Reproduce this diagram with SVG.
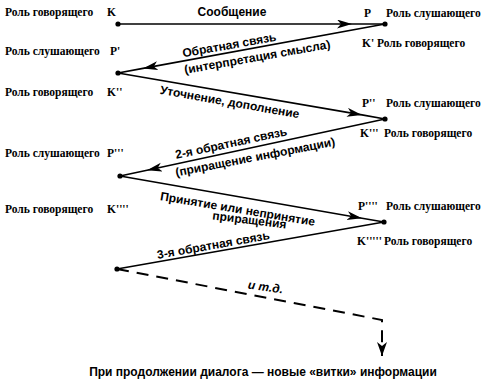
<svg xmlns="http://www.w3.org/2000/svg" width="500" height="385" viewBox="0 0 500 385">
<defs>
<marker id="ah" markerUnits="userSpaceOnUse" markerWidth="20" markerHeight="12" refX="15" refY="4.5" orient="auto">
<path d="M0,0 L15,4.5 L0,9 L4,4.5 z" fill="#000"/>
</marker>
<marker id="ahd" markerUnits="userSpaceOnUse" markerWidth="12" markerHeight="16" refX="5" refY="14" orient="0">
<path d="M0,0 L5,14 L10,0 L5,4 z" fill="#000"/>
</marker>
<style>
.role{font-family:"Liberation Serif",serif;font-weight:bold;font-size:11.5px;fill:#000}
.lbl{font-family:"Liberation Sans",sans-serif;font-weight:bold;font-size:12px;fill:#000}
.ln{fill:none;stroke:#000;stroke-width:1.6}
.dash{fill:none;stroke:#000;stroke-width:2;stroke-dasharray:12,8}
.dot{fill:#000}
</style>
</defs>
<rect width="500" height="385" fill="#fff"/>
<g id="connectors">
<path class="ln" d="M118,24 L352,24 L385,24" marker-mid="url(#ah)"/>
<path class="ln" d="M385,24 L143,68.4 L118,73" marker-mid="url(#ah)"/>
<path class="ln" d="M118,73 L362,114.9 L385,119" marker-mid="url(#ah)"/>
<path class="ln" d="M385,119 L147,170.2 L120,176" marker-mid="url(#ah)"/>
<path class="ln" d="M120,176 L362,218.2 L384,222" marker-mid="url(#ah)"/>
<path class="ln" d="M384,222 L117,269"/>
<path class="dash" d="M117,269 L382,320 L382,356" marker-end="url(#ahd)"/>
</g>
<g id="n-k1"><circle class="dot" cx="118" cy="24" r="2.6"/>
<text class="role" x="5" y="16">Роль говорящего</text><text class="role" x="107" y="16">K</text></g>
<g id="n-p1"><circle class="dot" cx="385" cy="24" r="2.6"/>
<text class="role" x="364" y="17">P</text><text class="role" x="386" y="17">Роль слушающего</text>
<text class="role" x="362" y="47">K'</text><text class="role" x="377" y="47">Роль говорящего</text></g>
<g id="n-p2"><circle class="dot" cx="118" cy="73" r="2.6"/>
<text class="role" x="5" y="55">Роль слушающего</text><text class="role" x="110" y="55">P'</text>
<text class="role" x="5" y="96">Роль говорящего</text><text class="role" x="107" y="96">K''</text></g>
<g id="n-p3"><circle class="dot" cx="385" cy="119" r="2.6"/>
<text class="role" x="362" y="107">P''</text><text class="role" x="386" y="107">Роль слушающего</text>
<text class="role" x="360" y="137">K'''</text><text class="role" x="384" y="137">Роль говорящего</text></g>
<g id="n-p4"><circle class="dot" cx="120" cy="176" r="2.6"/>
<text class="role" x="5" y="157">Роль слушающего</text><text class="role" x="107" y="157">P'''</text>
<text class="role" x="5" y="213">Роль говорящего</text><text class="role" x="107" y="213">K''''</text></g>
<g id="n-p5"><circle class="dot" cx="384" cy="222" r="2.6"/>
<text class="role" x="358" y="210">P''''</text><text class="role" x="386" y="210">Роль слушающего</text>
<text class="role" x="357" y="245">K'''''</text><text class="role" x="384" y="245">Роль говорящего</text></g>
<g id="n-end"><circle class="dot" cx="117" cy="269" r="2.6"/></g>
<g id="labels">
<text class="lbl" x="232" y="16" text-anchor="middle">Сообщение</text>
<text class="lbl" text-anchor="middle" transform="translate(230,49) rotate(-10)">Обратная связь</text>
<text class="lbl" text-anchor="middle" transform="translate(258,61) rotate(-10)">(интерпретация смысла)</text>
<text class="lbl" text-anchor="middle" transform="translate(229,106) rotate(10)">Уточнение, дополнение</text>
<text class="lbl" text-anchor="middle" transform="translate(232,147) rotate(-12)">2-я обратная связь</text>
<text class="lbl" text-anchor="middle" transform="translate(256,161) rotate(-11)">(приращение информации)</text>
<text class="lbl" text-anchor="middle" transform="translate(237,213) rotate(9.5)">Принятие или непринятие</text>
<text class="lbl" text-anchor="middle" transform="translate(249,224) rotate(7)">приращения</text>
<text class="lbl" text-anchor="middle" transform="translate(214,249) rotate(-10)">3-я обратная связь</text>
<text class="lbl" text-anchor="middle" transform="translate(265,291) rotate(8)" font-style="italic" font-size="10.5">и т.д.</text>
<text class="lbl" x="263" y="376" text-anchor="middle" font-size="13">При продолжении диалога — новые «витки» информации</text>
</g>
</svg>
